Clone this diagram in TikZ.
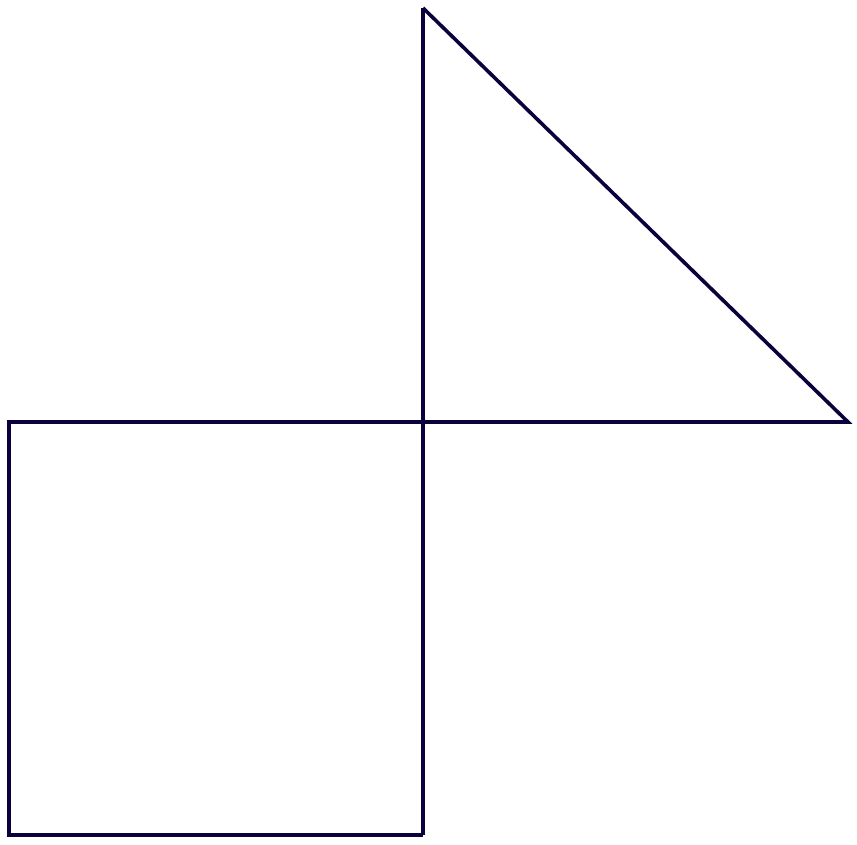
\documentclass[tikz,border=0pt]{standalone}
\definecolor{ink}{RGB}{10,2,60}
\tikzset{edge/.style={draw=ink,line width=3.6pt,line cap=butt,line join=miter}}
\begin{document}
\begin{tikzpicture}[x=1pt,y=-1pt]
\useasboundingbox (0,0) rectangle (857,844);
\coordinate (TL) at (9,422);
\coordinate (C) at (423,422);
\coordinate (BL) at (9,835);
\coordinate (BR) at (423,835);
\coordinate (T) at (423,8);
\coordinate (R) at (848,422);
\draw[edge] (BR) -- (BL) -- (TL) -- (C);
\draw[edge] (BR) -- (T);
\draw[edge] (T) -- (R) -- (C);
\end{tikzpicture}
\end{document}
